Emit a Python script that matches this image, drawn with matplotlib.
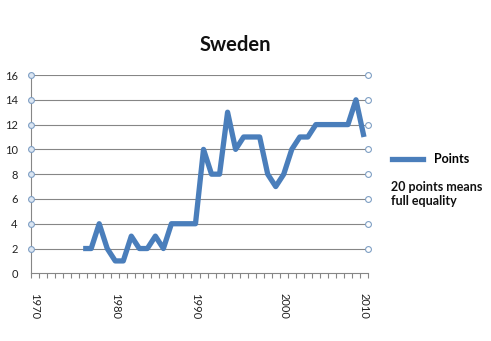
import numpy as np
import matplotlib
matplotlib.use("Agg")
import matplotlib.pyplot as plt

# Sweden, points per period (category axis, 42 slots from 1970)
n_slots = 42
first_slot = 6
points = [2, 2, 4, 2, 1, 1, 3, 2, 2, 3, 2, 4, 4, 4, 4, 10, 8, 8, 13, 10,
          11, 11, 11, 8, 7, 8, 10, 11, 11, 12, 12, 12, 12, 12, 14, 11]
year_labels = ["1970", "1980", "1990", "2000", "2010"]
year_slots = [0, 10, 20, 31, 41]
y_ticks = [2, 4, 6, 8, 10, 12, 14, 16]

plt.rcParams['font.family'] = ['Lato', 'DejaVu Sans']

line_col = "#4a7ebb"
grid_col = "#868686"

fig = plt.figure(figsize=(4.91, 3.41), dpi=100)
ax = fig.add_axes([31 / 491, 0.1985, 337 / 491, 0.5815])

x = np.arange(first_slot, first_slot + len(points))
ax.plot(x, points, color=line_col, lw=3.8, solid_joinstyle="round",
        solid_capstyle="butt", zorder=3)

ax.set_xlim(-0.5, n_slots - 0.5)
ax.set_ylim(0, 16)

# gridlines and the little circle markers on both edges
for y in y_ticks:
    ax.axhline(y, color=grid_col, lw=0.8, zorder=1)
ax.plot([-0.5] * len(y_ticks), y_ticks, ls="none", marker="o", ms=4.2,
        mfc="#dce6f2", mec="#7f9fc4", mew=0.8, clip_on=False, zorder=4)
ax.plot([n_slots - 0.5] * len(y_ticks), y_ticks, ls="none", marker="o", ms=4.2,
        mfc="#ffffff", mec="#7f9fc4", mew=0.8, clip_on=False, zorder=4)

for s in ["top", "right"]:
    ax.spines[s].set_visible(False)
ax.spines["left"].set_color(grid_col)
ax.spines["bottom"].set_color(grid_col)
ax.spines["left"].set_linewidth(0.8)
ax.spines["bottom"].set_linewidth(0.8)

ax.set_yticks([0] + y_ticks)
ax.tick_params(axis="y", length=0, pad=9.5, labelsize=8, labelcolor="#222222")

ax.set_xticks(year_slots)
ax.set_xticklabels(year_labels, rotation=270, va="top", ha="center")
ax.set_xticks(np.arange(-0.5, n_slots, 1.0), minor=True)
ax.tick_params(axis="x", which="major", length=0, pad=14, labelsize=8,
               labelcolor="#222222")
ax.tick_params(axis="x", which="minor", length=3.6, color=grid_col, width=0.8)

fig.text(0.4796, 0.868, "Sweden", ha="center", va="center", fontsize=14.5,
         fontweight="bold", color="#111111")

leg = fig.legend([plt.Line2D([], [], color=line_col, lw=3.8)], ["Points"],
                 loc="center left", bbox_to_anchor=(0.7978, 0.5328),
                 frameon=False, borderpad=0, borderaxespad=0,
                 handlelength=2.5, handletextpad=0.9,
                 prop={"size": 9, "weight": "bold"})
fig.text(0.7963, 0.4507, "20 points means", ha="left", va="center",
         fontsize=9, fontweight="bold", color="#111111")
fig.text(0.7963, 0.4106, "full equality", ha="left", va="center",
         fontsize=9, fontweight="bold", color="#111111")

fig.savefig("out.png", dpi=100)
